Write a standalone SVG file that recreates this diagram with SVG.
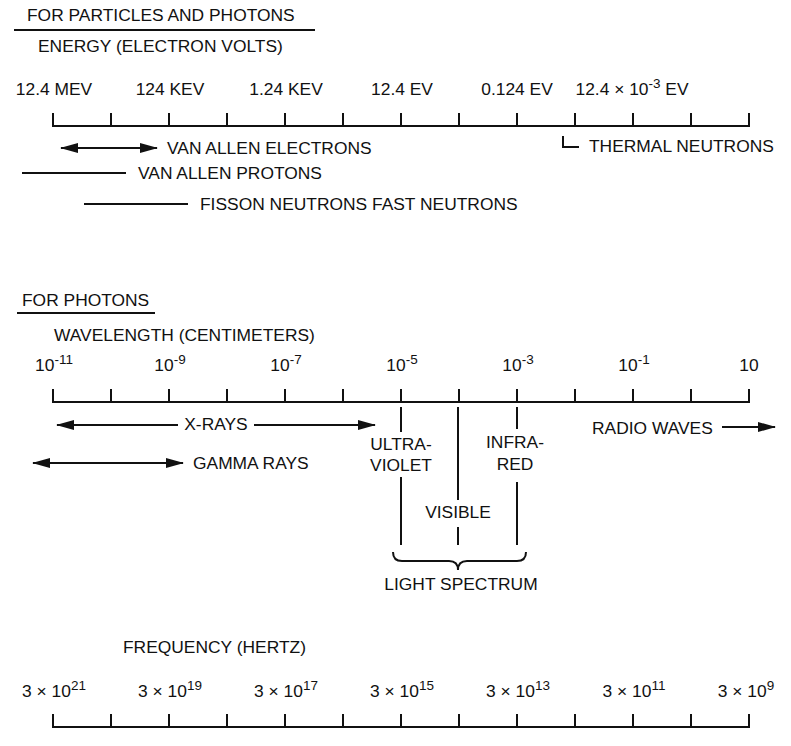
<svg xmlns="http://www.w3.org/2000/svg" width="791" height="746" viewBox="0 0 791 746">
<style>
text{font-family:"Liberation Sans",Arial,Helvetica,sans-serif;font-size:17.4px;fill:#111}
.c{text-anchor:middle}
.sup{font-size:13.5px}
.ln{stroke:#111;stroke-width:2;fill:none}
.ax{stroke:#111;stroke-width:2;fill:none}
</style>
<defs>
<marker id="ah" viewBox="0 0 18 10" markerWidth="18" markerHeight="10" refX="17" refY="5" markerUnits="userSpaceOnUse" orient="auto-start-reverse">
<path d="M0,0 L18,5 L0,10 Z" fill="#111"/>
</marker>
</defs>
<rect width="791" height="746" fill="#fff"/>

<g id="header-particles">
<text x="27" y="21">FOR PARTICLES AND PHOTONS</text>
<line class="ln" x1="14" y1="30" x2="315" y2="30"/>
</g>
<g id="energy-title"><text x="38" y="52">ENERGY (ELECTRON VOLTS)</text></g>
<g id="energy-labels">
<text class="c" x="54" y="95">12.4 MEV</text>
<text class="c" x="170" y="95">124 KEV</text>
<text class="c" x="286" y="95">1.24 KEV</text>
<text class="c" x="402" y="95">12.4 EV</text>
<text class="c" x="517" y="95">0.124 EV</text>
<text class="c" x="632" y="95">12.4 × 10<tspan class="sup" dy="-7">-3</tspan><tspan dy="7"> EV</tspan></text>
</g>
<g id="energy-axis">
<path class="ax" d="M53,113V126H749V113M111,113V126M169,113V126M227,113V126M285,113V126M343,113V126M401,113V126M459,113V126M517,113V126M575,113V126M633,113V126M691,113V126"/>
</g>
<g id="van-allen-electrons"><text x="167" y="154">VAN ALLEN ELECTRONS</text></g>
<g id="van-allen-protons"><text x="138" y="179">VAN ALLEN PROTONS</text></g>
<g id="fission-neutrons"><text x="200" y="210">FISSON NEUTRONS FAST NEUTRONS</text></g>
<g id="thermal-neutrons"><text x="589" y="152">THERMAL NEUTRONS</text></g>

<g id="header-photons">
<text x="22" y="306">FOR PHOTONS</text>
<line class="ln" x1="17" y1="313" x2="155" y2="313"/>
</g>
<g id="wavelength-title"><text x="54" y="341">WAVELENGTH (CENTIMETERS)</text></g>
<g id="wavelength-labels">
<text class="c" x="54" y="371">10<tspan class="sup" dy="-7">-11</tspan></text>
<text class="c" x="170" y="371">10<tspan class="sup" dy="-7">-9</tspan></text>
<text class="c" x="286" y="371">10<tspan class="sup" dy="-7">-7</tspan></text>
<text class="c" x="402" y="371">10<tspan class="sup" dy="-7">-5</tspan></text>
<text class="c" x="518" y="371">10<tspan class="sup" dy="-7">-3</tspan></text>
<text class="c" x="634" y="371">10<tspan class="sup" dy="-7">-1</tspan></text>
<text class="c" x="749" y="371">10</text>
</g>
<g id="wavelength-axis">
<path class="ax" d="M53,389V402H749V389M111,389V402M169,389V402M227,389V402M285,389V402M343,389V402M401,389V402M459,389V402M517,389V402M575,389V402M633,389V402M691,389V402"/>
</g>
<g id="x-rays"><text class="c" x="216" y="430">X-RAYS</text></g>
<g id="gamma-rays"><text x="193" y="469">GAMMA RAYS</text></g>
<g id="ultraviolet">
<text class="c" x="401" y="450">ULTRA-</text>
<text class="c" x="401" y="471">VIOLET</text>
</g>
<g id="visible"><text class="c" x="458" y="518">VISIBLE</text></g>
<g id="infrared">
<text class="c" x="515" y="448">INFRA-</text>
<text class="c" x="515" y="470">RED</text>
</g>
<g id="light-spectrum"><text class="c" x="461" y="590">LIGHT SPECTRUM</text></g>
<g id="radio-waves"><text x="592" y="434">RADIO WAVES</text></g>

<g id="frequency-title"><text x="123" y="653">FREQUENCY (HERTZ)</text></g>
<g id="frequency-labels">
<text class="c" x="54" y="697">3 × 10<tspan class="sup" dy="-7">21</tspan></text>
<text class="c" x="170" y="697">3 × 10<tspan class="sup" dy="-7">19</tspan></text>
<text class="c" x="286" y="697">3 × 10<tspan class="sup" dy="-7">17</tspan></text>
<text class="c" x="402" y="697">3 × 10<tspan class="sup" dy="-7">15</tspan></text>
<text class="c" x="518" y="697">3 × 10<tspan class="sup" dy="-7">13</tspan></text>
<text class="c" x="634" y="697">3 × 10<tspan class="sup" dy="-7">11</tspan></text>
<text class="c" x="746" y="697">3 × 10<tspan class="sup" dy="-7">9</tspan></text>
</g>
<g id="frequency-axis">
<path class="ax" d="M53,714V727H749V714M111,714V727M169,714V727M227,714V727M285,714V727M343,714V727M401,714V727M459,714V727M517,714V727M575,714V727M633,714V727M691,714V727"/>
</g>

<g id="connectors">
<line class="ln" x1="61" y1="148" x2="157" y2="148" marker-start="url(#ah)" marker-end="url(#ah)"/>
<line class="ln" x1="22" y1="173" x2="126" y2="173"/>
<line class="ln" x1="84" y1="204" x2="188" y2="204"/>
<path class="ln" d="M563,136V147H579"/>
<line class="ln" x1="57" y1="425" x2="178" y2="425" marker-start="url(#ah)"/>
<line class="ln" x1="254" y1="425" x2="375" y2="425" marker-end="url(#ah)"/>
<line class="ln" x1="33" y1="463" x2="183" y2="463" marker-start="url(#ah)" marker-end="url(#ah)"/>
<line class="ln" x1="722" y1="427" x2="775" y2="427" marker-end="url(#ah)"/>
<path class="ln" d="M401,407V432M401,477V545"/>
<path class="ln" d="M458,407V500M458,527V545"/>
<path class="ln" d="M517,407V429M517,482V545"/>
<path class="ln" d="M393,552Q393,561 402,561H449Q458,561 458,570Q458,561 467,561H517Q526,561 526,552"/>
</g>
</svg>
